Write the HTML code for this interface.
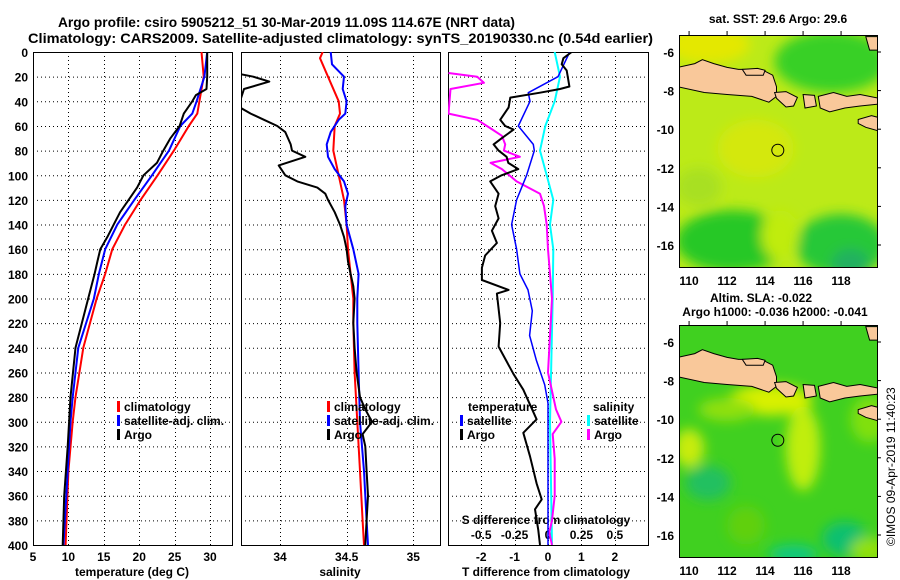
<!DOCTYPE html>
<html><head><meta charset="utf-8"><style>
html,body{margin:0;padding:0;background:#fff;}
svg{display:block;font-family:"Liberation Sans",sans-serif;font-weight:bold;}
</style></head><body>
<svg id="fig" width="900" height="580" viewBox="0 0 900 580" xmlns="http://www.w3.org/2000/svg">
<defs>
<filter id="blur1" x="-20%" y="-20%" width="140%" height="140%"><feGaussianBlur stdDeviation="6"/></filter>
<clipPath id="c1"><rect x="33" y="52" width="199" height="493"/></clipPath>
<clipPath id="c2"><rect x="241" y="52" width="199" height="493"/></clipPath>
<clipPath id="c3"><rect x="448" y="52" width="200" height="493"/></clipPath>
<clipPath id="m1"><rect x="679" y="35" width="198" height="232"/></clipPath>
<clipPath id="m2"><rect x="679" y="325" width="198" height="232"/></clipPath>
</defs>
<text x="58" y="27" font-size="14" textLength="457" lengthAdjust="spacingAndGlyphs">Argo profile: csiro 5905212_51 30-Mar-2019 11.09S 114.67E (NRT data)</text>
<text x="28" y="43" font-size="14" textLength="625" lengthAdjust="spacingAndGlyphs">Climatology: CARS2009. Satellite-adjusted climatology: synTS_20190330.nc (0.54d earlier)</text>
<g id="p1"></g>
<g id="p2"></g>
<g id="p3"></g>
<g id="maps"></g>
<text transform="translate(895,546) rotate(-90)" font-size="12" font-weight="normal">©IMOS 09-Apr-2019 11:40:23</text>
</svg>
<script>
// ---- data ----
const depthTicks = [0,20,40,60,80,100,120,140,160,180,200,220,240,260,280,300,320,340,360,380,400];
const tempTicks = [5,10,15,20,25,30];
const salTicks = [34,34.5,35];
const salTickLabels = ["34","34.5","35"];
const diffTicks = [-2,-1,0,1,2];
const sdiffTicks = [-0.5,-0.25,0,0.25,0.5];
const sdiffTickLabels = ["-0.5","-0.25","0","0.25","0.5"];

const tClimDepth = [0,20,40,50,60,80,100,120,140,160,180,200,240,280,300,340,400];
const tClimVal   = [28.8,29.1,28.5,28.2,27.0,24.9,22.6,20.2,18.0,16.2,15.2,14.0,12.1,11.0,10.6,10.0,9.6];
const tSatDepth  = [0,20,40,50,60,80,100,120,140,160,180,200,240,280,300,340,400];
const tSatVal    = [29.6,29.2,28.1,27.5,25.8,24.2,21.8,19.3,16.9,15.2,14.3,13.6,11.4,10.6,10.3,9.9,9.3];
const tArgoDepth = [0,20,30,35,40,50,60,70,80,90,100,110,120,130,140,150,160,170,180,200,240,280,300,320,360,400];
const tArgoVal   = [29.6,29.6,29.5,28.0,27.5,26.3,25.7,24.4,23.4,22.5,20.6,19.7,18.5,17.3,16.4,15.5,14.5,14.1,13.7,12.8,11.0,10.3,10.1,9.9,9.4,9.2];

const sClimDepth = [0,5,20,40,50,60,80,100,120,140,160,180,200,220,260,300,340,380,400];
const sClimVal   = [34.32,34.30,34.36,34.44,34.45,34.41,34.40,34.44,34.48,34.50,34.51,34.53,34.55,34.55,34.56,34.58,34.60,34.62,34.63];
const sSatDepth  = [0,10,20,30,40,50,55,65,75,85,95,105,115,125,140,160,180,200,220,260,300,340,380,400];
const sSatVal    = [34.38,34.39,34.48,34.47,34.50,34.49,34.44,34.38,34.35,34.36,34.41,34.48,34.51,34.49,34.50,34.55,34.59,34.58,34.58,34.59,34.60,34.63,34.65,34.66];
const sArgoDepth = [17,20,24,30,40,45,50,55,60,65,75,80,85,92,100,105,110,115,120,130,140,150,160,170,180,190,200,220,240,260,280,290,300,310,320,340,360,380,400];
const sArgoVal   = [33.66,33.80,33.92,33.73,33.70,33.70,33.78,33.88,33.98,34.04,34.08,34.09,34.19,33.99,34.04,34.13,34.28,34.34,34.36,34.41,34.45,34.48,34.50,34.51,34.53,34.55,34.56,34.55,34.56,34.575,34.60,34.64,34.69,34.62,34.64,34.65,34.66,34.65,34.64];

const dTArgoDepth = [0,5,10,15,28,30,33,37,45,55,60,63,70,75,80,85,90,95,100,105,115,125,135,145,155,165,175,185,193,196,220,239,261,274,298,309,328,350,363,371,388,400];
const dTArgoVal   = [0.71,0.46,0.41,0.56,0.64,0.36,-0.24,-1.13,-1.18,-1.43,-1.28,-1.03,-1.39,-1.63,-1.48,-1.24,-1.19,-0.89,-1.39,-1.73,-1.48,-1.58,-1.48,-1.68,-1.53,-1.88,-1.98,-1.98,-1.18,-1.53,-1.43,-1.48,-1.04,-0.74,-0.34,-0.74,-0.54,-0.34,-0.19,-0.39,-0.29,-0.24];
const dTSatDepth  = [0,20,33,40,60,75,80,100,120,140,160,180,193,210,230,250,270,285,300,400];
const dTSatVal    = [0.65,0.30,-0.59,-0.54,-0.89,-0.44,-0.41,-0.64,-0.94,-1.09,-0.94,-0.84,-0.60,-0.47,-0.55,-0.35,-0.10,0.0,0.0,0.0];
const dSSatDepth  = [0,20,40,60,80,100,120,140,160,200,300,400];
const dSSatVal    = [0.05,0.09,0.05,-0.02,-0.06,-0.01,0.04,0.015,0.04,0.035,0.015,0.03];
const dSArgoDepth = [17,20,25,30,50,55,62,68,75,80,85,90,95,105,115,125,140,160,180,200,260,290,300,310,330,360,380,390,400];
const dSArgoVal   = [-0.745,-0.53,-0.48,-0.73,-0.745,-0.53,-0.43,-0.345,-0.32,-0.33,-0.21,-0.43,-0.345,-0.235,-0.06,-0.03,-0.01,0.0,0.015,0.03,0.0,0.06,0.10,0.035,0.05,0.05,0.03,0.01,0.03];

// ---- helpers ----
const NS = "http://www.w3.org/2000/svg";
function mk(parent, tag, attrs, txt){
  const e = document.createElementNS(NS, tag);
  for (const k in attrs) e.setAttribute(k, attrs[k]);
  if (txt !== undefined) e.textContent = txt;
  parent.appendChild(e); return e;
}
const Y0 = 52, Y1 = 545;
function yD(d){ return Y0 + d * (Y1 - Y0) / 400; }
function xT(t){ return 33 + (t - 5) * 199 / 28.1; }
function xS(s){ return 280 + (s - 34) * 133.3; }
function xDT(v){ return 548 + v * 33.4; }
function xDS(v){ return 548 + v * 4 * 33.4; }

function frame(g, x0, x1, xs, name){
  const grid = mk(g, "g", {});
  
  
  depthTicks.forEach(d => { if (d > 0 && d < 400) mk(grid, "line", {x1:x0, x2:x1, y1:yD(d)+0.5, y2:yD(d)+0.5, stroke:"#000", "stroke-width":1, "stroke-dasharray":"1,3"}); });
  xs.forEach(x => mk(grid, "line", {x1:Math.round(x)+0.5, x2:Math.round(x)+0.5, y1:Y0, y2:Y1, stroke:"#000", "stroke-width":1, "stroke-dasharray":"1,3"}));
  const r = mk(g, "rect", {x:x0+0.5, y:Y0+0.5, width:x1-x0, height:Y1-Y0, fill:"none", stroke:"#000", "stroke-width":1});
  
  
}
function line(g, xf, depths, vals, color, w, clip, name){
  const pts = depths.map((d,i) => xf(vals[i]).toFixed(1) + "," + yD(d).toFixed(1)).join(" ");
  const p = mk(g, "polyline", {points:pts, fill:"none", stroke:color, "stroke-width":w, "clip-path":"url(#"+clip+")", "stroke-linejoin":"round"});
  
  
}
function legend(g, x, y, color, label, name){
  const m = mk(g, "rect", {x:x, y:y-10, width:3, height:11, fill:color});
  
  
  const t = mk(g, "text", {x:x+7, y:y, "font-size":12}, label);
  
  
}

// ---- panel 1 ----
const p1 = document.getElementById("p1");
frame(p1, 33, 232, tempTicks.filter(t => t > 5).map(xT), "temperature");
depthTicks.forEach(d => {
  const t = mk(p1, "text", {x:28, y:yD(d)+5, "font-size":12, "text-anchor":"end"}, String(d));
  
  
});
tempTicks.forEach(v => {
  const t = mk(p1, "text", {x:xT(v), y:561, "font-size":12, "text-anchor":"middle"}, String(v));
  
  
});
let xt = mk(p1, "text", {x:132, y:576, "font-size":12, "text-anchor":"middle"}, "temperature (deg C)");


line(p1, xT, tClimDepth, tClimVal, "#f00", 2, "c1", "temperature-climatology-line");
line(p1, xT, tSatDepth, tSatVal, "#00f", 2, "c1", "temperature-satellite-line");
line(p1, xT, tArgoDepth, tArgoVal, "#000", 2, "c1", "temperature-argo-line");
legend(p1, 117, 411, "#f00", "climatology", "legend-climatology");
legend(p1, 117, 425, "#00f", "satellite-adj. clim.", "legend-satellite-adj");
legend(p1, 117, 439, "#000", "Argo", "legend-argo");

// ---- panel 2 ----
const p2 = document.getElementById("p2");
frame(p2, 241, 440, salTicks.map(xS), "salinity");
salTicks.forEach((v,i) => {
  const t = mk(p2, "text", {x:xS(v), y:561, "font-size":12, "text-anchor":"middle"}, salTickLabels[i]);
  
  
});
xt = mk(p2, "text", {x:340, y:576, "font-size":12, "text-anchor":"middle"}, "salinity");


line(p2, xS, sClimDepth, sClimVal, "#f00", 2, "c2", "salinity-climatology-line");
line(p2, xS, sSatDepth, sSatVal, "#00f", 2, "c2", "salinity-satellite-line");
line(p2, xS, sArgoDepth, sArgoVal, "#000", 2, "c2", "salinity-argo-line");
legend(p2, 327, 411, "#f00", "climatology", "legend-climatology-2");
legend(p2, 327, 425, "#00f", "satellite-adj. clim.", "legend-satellite-adj-2");
legend(p2, 327, 439, "#000", "Argo", "legend-argo-2");

// ---- panel 3 ----
const p3 = document.getElementById("p3");
frame(p3, 448, 648, diffTicks.map(xDT), "difference");
diffTicks.forEach(v => {
  const t = mk(p3, "text", {x:xDT(v), y:561, "font-size":12, "text-anchor":"middle"}, String(v));
  
  
});
sdiffTicks.forEach((v,i) => {
  const t = mk(p3, "text", {x:xDS(v), y:539, "font-size":12, "text-anchor":"middle"}, sdiffTickLabels[i]);
  
  
});
xt = mk(p3, "text", {x:546, y:524, "font-size":12, "text-anchor":"middle"}, "S difference from climatology");


xt = mk(p3, "text", {x:546, y:576, "font-size":12, "text-anchor":"middle"}, "T difference from climatology");


line(p3, xDS, dSSatDepth, dSSatVal, "#0ff", 2, "c3", "sdiff-satellite-line");
line(p3, xDS, dSArgoDepth, dSArgoVal, "#f0f", 2, "c3", "sdiff-argo-line");
line(p3, xDT, dTSatDepth, dTSatVal, "#00f", 1.5, "c3", "tdiff-satellite-line");
line(p3, xDT, dTArgoDepth, dTArgoVal, "#000", 2, "c3", "tdiff-argo-line");
let lt = mk(p3, "text", {x:468, y:411, "font-size":12}, "temperature");


legend(p3, 460, 425, "#00f", "satellite", "legend-tdiff-satellite");
legend(p3, 460, 439, "#000", "Argo", "legend-tdiff-argo");
lt = mk(p3, "text", {x:593, y:411, "font-size":12}, "salinity");


legend(p3, 587, 425, "#0ff", "satellite", "legend-sdiff-satellite");
legend(p3, 587, 439, "#f0f", "Argo", "legend-sdiff-argo");

// ---- maps ----
const maps = document.getElementById("maps");
const lonTicks = [110,112,114,116,118];
const latTicks = [-6,-8,-10,-12,-14,-16];
const java = [[109.4,-6.8],[110.3,-6.6],[110.7,-6.4],[111.3,-6.6],[112.0,-6.8],[112.6,-6.9],[113.4,-6.9],[114.0,-7.0],[114.4,-7.2],[114.6,-7.8],[114.6,-8.3],[114.2,-8.6],[113.3,-8.3],[112.0,-8.2],[110.8,-8.1],[109.4,-7.8]];
const madura = [[112.8,-6.9],[113.6,-6.85],[114.0,-6.95],[113.9,-7.2],[113.0,-7.2]];
const bali = [[114.5,-8.1],[115.1,-8.05],[115.7,-8.35],[115.5,-8.8],[115.1,-8.85],[114.6,-8.4]];
const lombok = [[116.0,-8.2],[116.6,-8.25],[116.7,-8.8],[116.1,-8.9]];
const sumbawa = [[116.8,-8.3],[117.6,-8.1],[118.3,-8.3],[119.0,-8.2],[120,-8.4],[120,-8.7],[119.0,-8.8],[118.2,-8.9],[117.4,-9.1],[116.9,-8.9]];
const sumba = [[118.9,-9.5],[119.6,-9.3],[120,-9.4],[120,-10.1],[119.3,-9.9],[118.9,-9.7]];
const ne = [[119.3,-5.2],[120,-5.2],[120,-5.9],[119.5,-5.9]];
const argoLon = 114.67, argoLat = -11.09;

function drawMap(top, clip, name, blobs, base){
  const px = lon => 679 + (lon - 109.47) * 19;
  const py = lat => top + 17 + (-6 - lat) * 19.3;
  const g = mk(maps, "g", {});
  
  
  const inner = mk(g, "g", {"clip-path":"url(#"+clip+")"});
  mk(inner, "rect", {x:679, y:top, width:198, height:232, fill:base});
  const bg = mk(inner, "g", {filter:"url(#blur1)"});
  blobs.forEach(b => mk(bg, "ellipse", {cx:px(b[0]), cy:py(b[1]), rx:b[2]*19, ry:b[3]*19.3, fill:b[4]}));
  [java, madura, bali, lombok, sumbawa, sumba, ne].forEach(poly => {
    const p = mk(inner, "polygon", {points:poly.map(q => px(q[0]).toFixed(1)+","+py(q[1]).toFixed(1)).join(" "), fill:"#f9c89a", stroke:"#000", "stroke-width":1});
    
    
  });
  const c = mk(inner, "circle", {cx:px(argoLon), cy:py(argoLat), r:6, fill:"none", stroke:"#000", "stroke-width":1});
  
  
  mk(g, "rect", {x:679.5, y:top+0.5, width:198, height:232, fill:"none", stroke:"#000", "stroke-width":1});
  lonTicks.forEach(l => {
    mk(g, "line", {x1:px(l), x2:px(l), y1:top-4, y2:top, stroke:"#000"});
    const t = mk(g, "text", {x:px(l), y:top+250, "font-size":12, "text-anchor":"middle"}, String(l));
    
    
  });
  latTicks.forEach(l => {
    mk(g, "line", {x1:877, x2:881, y1:py(l), y2:py(l), stroke:"#000"});
    const t = mk(g, "text", {x:674, y:py(l)+5, "font-size":12, "text-anchor":"end"}, String(l));
    
    
  });
}
drawMap(35, "m1", "sst-map", [
  [111,-5.6,2.2,1.0,"#e4e800"],[117.5,-6.5,3,1.6,"#38d028"],[112.3,-15.8,3,1.6,"#28c828"],[118,-16,2.4,1.6,"#28c838"],
  [113.5,-11,2,1.5,"#d4e810"],[110.5,-13,1.2,1,"#a8e020"],[114.8,-15.5,1,1.3,"#c0ec10"],[118.5,-17,1,0.8,"#20b060"]
], "#bcea18");
drawMap(325, "m2", "sla-map", [
  [114.3,-9.0,2.2,0.8,"#d8f000"],[116,-11.5,0.9,2.2,"#c0ee10"],[110,-11.5,0.8,1,"#c8ec10"],[112,-9.5,1.5,0.6,"#90e010"],
  [118.2,-16.2,1.2,0.9,"#10c070"],[111,-13.3,1.2,0.9,"#20c060"],[115.5,-17,1.3,0.5,"#10c880"],[119.5,-16.8,1,0.7,"#90e010"],
  [113,-15.5,1,1,"#60d010"],[119.5,-10,1,1.2,"#80e010"]
], "#40d020");
let mt = mk(maps, "text", {x:778, y:23, "font-size":12, "text-anchor":"middle"}, "sat. SST: 29.6 Argo: 29.6");


mt = mk(maps, "text", {x:761, y:302, "font-size":12, "text-anchor":"middle"}, "Altim. SLA: -0.022");


mt = mk(maps, "text", {x:775, y:316, "font-size":12, "text-anchor":"middle"}, "Argo h1000: -0.036 h2000: -0.041");


</script>
</body></html>
